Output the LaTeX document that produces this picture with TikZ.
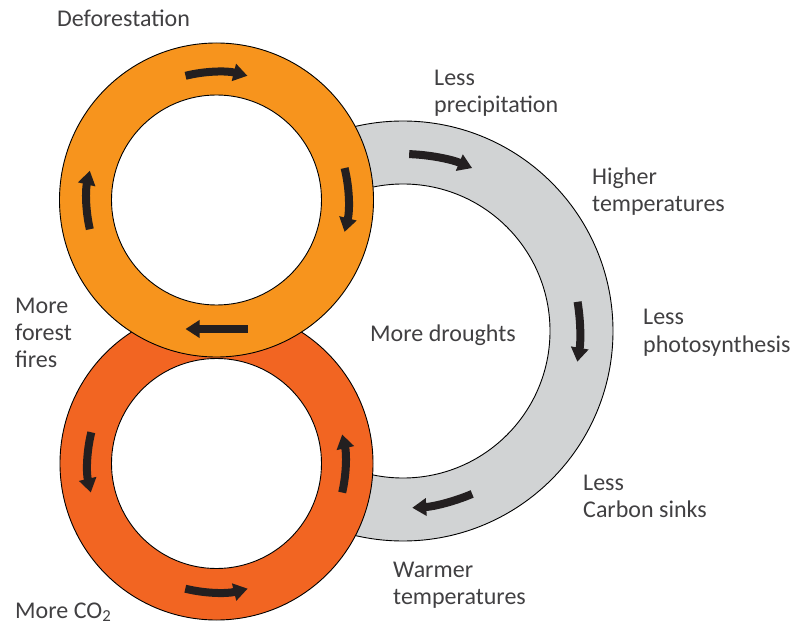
\documentclass[tikz,border=0pt]{standalone}
\usepackage{fontspec}
\setmainfont{Carlito}
\usetikzlibrary{calc}
\usetikzlibrary{arrows.meta}
\definecolor{forestorange}{HTML}{F7941D}
\definecolor{fireorange}{HTML}{F26522}
\definecolor{droughtgray}{HTML}{D1D3D4}
\definecolor{arrowblack}{HTML}{231F20}
\definecolor{labelgray}{HTML}{414042}

\begin{document}
\begin{tikzpicture}[x=1pt, y=1pt,
  ring/.style={draw=black, line width=0.9pt},
  turn/.style={arrowblack, line width=8pt, -{Triangle[length=14pt, width=17pt]}},
  lbl/.style={anchor=base west, inner sep=0pt, align=left, text=labelgray,
    font=\fontsize{24}{27}\selectfont}]
\useasboundingbox (0,0) rectangle (797,627);
\coordinate (g) at (403,296);
\coordinate (r) at (216.5,163.5);
\coordinate (o) at (216.5,427);

% drought loop, behind the two small loops
\draw[ring, fill=droughtgray] (g) circle[radius=210];
\draw[ring, fill=white] (g) circle[radius=147];
\draw[turn] ($(g)+(88:177)$) arc[start angle=88, end angle=67, radius=177];
\draw[turn] ($(g)+(9.5:177)$) arc[start angle=9.5, end angle=-10, radius=177];
\draw[turn] ($(g)+(-67:177)$) arc[start angle=-67, end angle=-87, radius=177];

% fire loop
\draw[ring, fill=fireorange] (r) circle[radius=156.5];
\draw[ring, fill=white] (r) circle[radius=105];
\draw[turn] ($(r)+(166:129)$) arc[start angle=166, end angle=193, radius=129];
\draw[turn] ($(r)+(256:129)$) arc[start angle=256, end angle=284, radius=129];
\draw[turn] ($(r)+(-13:129)$) arc[start angle=-13, end angle=13, radius=129];

% deforestation loop, on top
\draw[ring, fill=forestorange] (o) circle[radius=157];
\draw[ring, fill=white] (o) circle[radius=105];
\draw[turn] ($(o)+(104:128)$) arc[start angle=104, end angle=76, radius=128];
\draw[turn] ($(o)+(14:132)$) arc[start angle=14, end angle=-14, radius=132];
\draw[turn] ($(o)+(31,-129)$) -- ($(o)+(-31,-129)$);
\draw[turn] ($(o)+(193:130)$) arc[start angle=193, end angle=167, radius=130];

% labels (base = last line)
\node[lbl] (defor) at (57,600) {Deforestation};
\node[lbl] (precip) at (434,514.3) {Less\\precipitation};
\node[lbl] (hitemp) at (592,415) {Higher\\temperatures};
\node[lbl] (photo) at (643,275) {Less\\photosynthesis};
\node[lbl] (sinks) at (583,110) {Less\\Carbon sinks};
\node[lbl] (warm) at (393,23) {Warmer\\temperatures};
\node[lbl] (drought) at (370,285) {More droughts};
\node[lbl] (fires) at (15,259) {More\\forest\\fires};
\node[lbl] (co2) at (15,9) {More CO\textsubscript{2}};
\end{tikzpicture}
\end{document}
